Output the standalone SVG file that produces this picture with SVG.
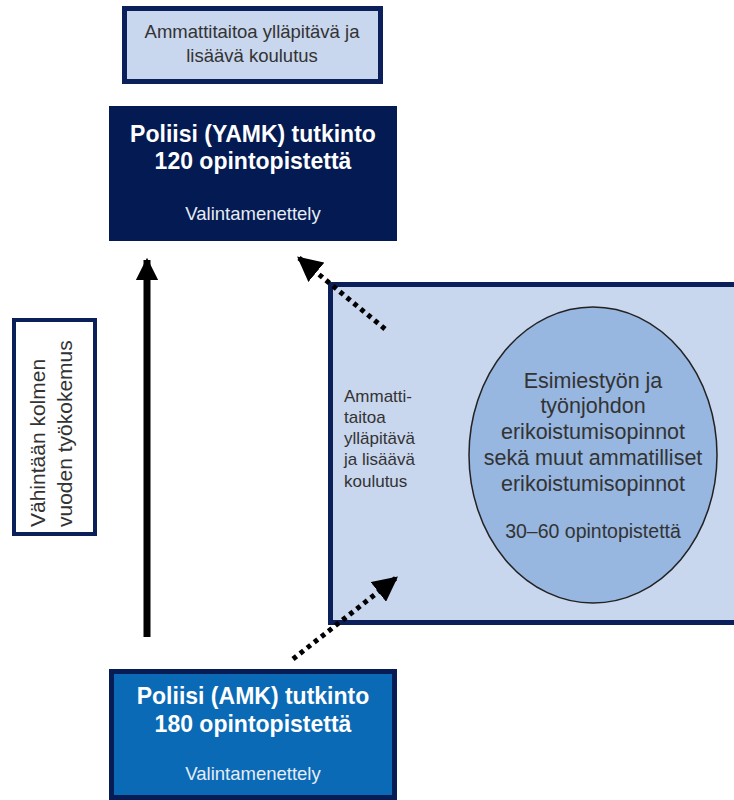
<svg xmlns="http://www.w3.org/2000/svg" width="734" height="800" viewBox="0 0 734 800">
<style>
text{font-family:"Liberation Sans",Arial,sans-serif;text-anchor:middle}
.t{fill:#333;font-size:18.5px}
.w{fill:#fff;font-size:23px;font-weight:bold}
.s{fill:#e6ecf6;font-size:18.5px}
.e{fill:#333;font-size:21.5px}
.p{fill:#333;font-size:19.5px}
.l{fill:#333;font-size:17px;text-anchor:start}
.v{fill:#333;font-size:21px;text-anchor:start}
.dot{stroke:#000;stroke-width:5;stroke-dasharray:4.5 4.5;fill:none}
</style>
<defs>
<marker id="ah" viewBox="0 0 10 10" refX="9" refY="5" markerWidth="5" markerHeight="5" orient="auto" markerUnits="strokeWidth">
<path d="M0,0 L10,5 L0,10 Z" fill="#000"/>
</marker>
<marker id="ah2" viewBox="0 0 10 10" refX="9" refY="5" markerWidth="3.2" markerHeight="3.2" orient="auto" markerUnits="strokeWidth">
<path d="M0,0 L10,5 L0,10 Z" fill="#000"/>
</marker>
</defs>
<g id="box-top">
<rect x="124.5" y="8.5" width="256" height="73" fill="#c8d6ee" stroke="#0b1f5b" stroke-width="5"/>
<text class="t" x="252" y="38">Ammattitaitoa ylläpitävä ja</text>
<text class="t" x="252" y="62">lisäävä koulutus</text>
</g>
<g id="box-yamk">
<rect x="109" y="106" width="288" height="135" fill="#031a52"/>
<text class="w" x="253" y="142">Poliisi (YAMK) tutkinto</text>
<text class="w" x="253" y="169">120 opintopistettä</text>
<text class="s" x="253" y="220">Valintamenettely</text>
</g>
<g id="box-right">
<rect x="330.5" y="284.5" width="410" height="338" fill="#c8d6ee" stroke="#0b1f5b" stroke-width="5"/>
<text class="l" x="344" y="402">Ammatti-</text>
<text class="l" x="344" y="423">taitoa</text>
<text class="l" x="344" y="444">ylläpitävä</text>
<text class="l" x="344" y="465">ja lisäävä</text>
<text class="l" x="344" y="487">koulutus</text>
</g>
<g id="ellipse">
<ellipse cx="593" cy="455" rx="124" ry="148" fill="#97b6e0" stroke="#222" stroke-width="1.5"/>
<text class="e" x="593" y="388">Esimiestyön ja</text>
<text class="e" x="593" y="413">työnjohdon</text>
<text class="e" x="593" y="439">erikoistumisopinnot</text>
<text class="e" x="593" y="465">sekä muut ammatilliset</text>
<text class="e" x="593" y="491">erikoistumisopinnot</text>
<text class="p" x="593" y="538">30–60 opintopistettä</text>
</g>
<g id="box-side">
<rect x="14" y="320" width="81" height="214" fill="#fff" stroke="#0b1f5b" stroke-width="4"/>
<text class="v" transform="translate(45,527) rotate(-90)">Vähintään kolmen</text>
<text class="v" transform="translate(72,527) rotate(-90)">vuoden työkokemus</text>
</g>
<g id="box-amk">
<rect x="111.5" y="671.5" width="283" height="126" fill="#0a6ab6" stroke="#061c55" stroke-width="5"/>
<text class="w" x="253" y="704">Poliisi (AMK) tutkinto</text>
<text class="w" x="253" y="732">180 opintopistettä</text>
<text class="s" x="253" y="780">Valintamenettely</text>
</g>
<g id="connectors">
<line x1="147" y1="637" x2="147" y2="260" stroke="#000" stroke-width="7" marker-end="url(#ah2)"/>
<line class="dot" x1="385" y1="329" x2="299" y2="258" marker-end="url(#ah)"/>
<line class="dot" x1="293" y1="659" x2="396" y2="578" marker-end="url(#ah)"/>
</g>
</svg>
